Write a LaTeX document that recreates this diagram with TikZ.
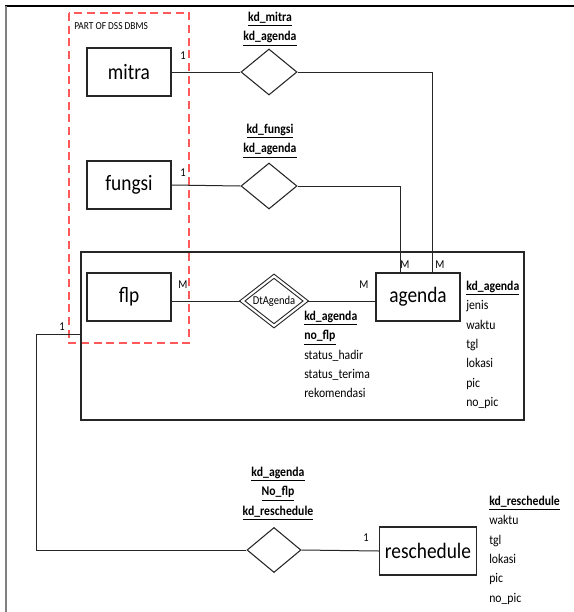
\documentclass[tikz,border=0pt]{standalone}
\usepackage{fontspec}
\setmainfont{Carlito}[FakeStretch=0.88]
\usetikzlibrary{shapes.geometric}
\newcommand{\pk}[1]{\textbf{\underline{#1}}}
\begin{document}
\begin{tikzpicture}[x=0.75pt, y=-0.75pt,
  entity/.style={draw=black!85, line width=0.8pt, minimum width=63pt, minimum height=36pt, inner sep=0pt, font=\fontsize{16.5}{18}\selectfont},
  rel/.style={diamond, aspect=1.3, draw=black!85, line width=0.8pt, inner sep=0pt, minimum width=42pt, minimum height=34.5pt},
  attr/.style={anchor=north west, inner sep=0pt, align=left, font=\fontsize{10}{14.5}\selectfont},
  card/.style={inner sep=0pt, font=\fontsize{9}{10}\selectfont},
  link/.style={draw=black!85, line width=0.75pt}]

  \useasboundingbox (0,0) rectangle (574,612);

  % frame of the page
  \draw[black, line width=0.9pt] (5,6) -- (574,6);
  \draw[gray, line width=1pt] (6,6) -- (6,612);

  % dss part
  \draw[red!65, line width=1pt, dash pattern=on 6pt off 3.5pt] (69,13) rectangle (189,343);
  \node[anchor=west, inner sep=0pt, font=\fontsize{8}{9}\selectfont] at (74,26) {PART OF DSS DBMS};

  % aggregation box
  \draw[black!85, line width=0.8pt] (81,252) rectangle (524,420);
  \coordinate (aggW) at (81,334);
  \coordinate (bend) at (36,550);

  % entities
  \node[entity] (mitra) at (129,72) {mitra};
  \node[entity] (fungsi) at (129,185) {fungsi};
  \node[entity] (flp) at (129,297) {flp};
  \node[entity] (agenda) at (418,297) {agenda};
  \node[entity, minimum width=72.75pt] (resch) at (428,551) {reschedule};

  % relations
  \node[rel] (rmitra) at (269,72) {};
  \node[rel] (rfungsi) at (269,186) {};
  \node[rel, double, double distance=1.6pt, minimum width=48pt, minimum height=37.5pt,
    font=\fontsize{9}{10}\selectfont] (dt) at (274,301) {DtAgenda};
  \node[rel, minimum width=40.5pt, minimum height=33.75pt] (rresch) at (274,550) {};

  % keys of the relations
  \node[attr, anchor=north, align=center] at (270,12) {\pk{kd\_mitra}\\\pk{kd\_agenda}};
  \node[attr, anchor=north, align=center] at (270,124) {\pk{kd\_fungsi}\\\pk{kd\_agenda}};
  \node[attr, anchor=north, align=center] at (278,467) {\pk{kd\_agenda}\\\pk{No\_flp}\\\pk{kd\_reschedule}};

  % attributes
  \node[attr] at (304,311) {\pk{kd\_agenda}\\\pk{no\_flp}\\status\_hadir\\status\_terima\\rekomendasi};
  \node[attr] at (466,281) {\pk{kd\_agenda}\\jenis\\waktu\\tgl\\lokasi\\pic\\no\_pic};
  \node[attr] at (489,496) {\pk{kd\_reschedule}\\waktu\\tgl\\lokasi\\pic\\no\_pic};

  % connectors
  \draw[link] (mitra.east) -- (rmitra.west);
  \draw[link] (rmitra.east) -| ([xshift=10.5pt]agenda.north);
  \draw[link] (fungsi.east) -- (rfungsi.west);
  \draw[link] (rfungsi.east) -| ([xshift=-13.5pt]agenda.north);
  \draw[link] ([yshift=-3pt]flp.east) -- (dt.west);
  \draw[link] (dt.east) -- ([yshift=-3pt]agenda.west);
  \draw[link] (aggW) -| (bend) -- (rresch.west);
  \draw[link] (rresch.east) -- (resch.west);

  % cardinalities
  \node[card] at (183,56) {1};
  \node[card] at (183,173) {1};
  \node[card] at (183,285) {M};
  \node[card] at (364,285) {M};
  \node[card] at (405,265) {M};
  \node[card] at (440,265) {M};
  \node[card] at (62,327) {1};
  \node[card] at (366,538) {1};

\end{tikzpicture}
\end{document}
